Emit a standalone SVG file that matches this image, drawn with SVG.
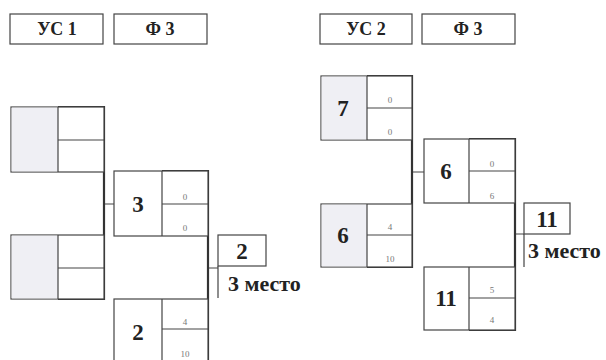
<svg xmlns="http://www.w3.org/2000/svg" width="606" height="360" viewBox="0 0 606 360">
<style>
.b{fill:#fff;stroke:#444;stroke-width:1.2}
.sh{fill:#efeff4;stroke:none}
.l{stroke:#444;stroke-width:1.2;fill:none}
.br{stroke:#333;stroke-width:2.2;fill:none}
.hd{font-family:"Liberation Serif",serif;font-weight:bold;font-size:18px;fill:#222;text-anchor:middle}
.n{font-family:"Liberation Serif",serif;font-weight:bold;font-size:23px;fill:#222;text-anchor:middle}
.s{font-family:"Liberation Serif",serif;font-size:9px;fill:#777;text-anchor:middle}
.m{font-family:"Liberation Serif",serif;font-weight:bold;font-size:22px;fill:#222}
</style>
<rect width="606" height="360" fill="#fff"/>
<g id="hdr-us1"><rect class="b" x="10" y="14" width="93" height="30"/><text class="hd" x="57" y="35">УС 1</text></g>
<g id="hdr-f3a"><rect class="b" x="114" y="14" width="93" height="30"/><text class="hd" x="160" y="35">Ф 3</text></g>
<g id="hdr-us2"><rect class="b" x="320" y="14" width="92" height="30"/><text class="hd" x="366" y="35">УС 2</text></g>
<g id="hdr-f3b"><rect class="b" x="422" y="14" width="93" height="30"/><text class="hd" x="468" y="35">Ф 3</text></g>

<g id="connectors">
<path class="l" d="M104 204H114M208 268H218M218 266V298M412 172H424M515 234H524M524 234V267"/>
<path class="br" d="M58 107H104V299H58"/>
<path class="br" d="M162 171H208V362H162"/>
<path class="br" d="M367 76H412V267H367"/>
<path class="br" d="M469 139H515V330H469"/>
</g>

<g id="L1"><rect class="b" x="11" y="107" width="93" height="65"/><rect class="sh" x="11.6" y="107.6" width="46.4" height="63.8"/><path class="l" d="M58 107V172M58 140H104"/></g>
<g id="L2"><rect class="b" x="11" y="235" width="93" height="64"/><rect class="sh" x="11.6" y="235.6" width="46.4" height="62.8"/><path class="l" d="M58 235V299M58 268H104"/></g>
<g id="L3"><rect class="b" x="114" y="171" width="94" height="65"/><path class="l" d="M162 171V236M162 204H208"/>
<text class="n" x="138" y="212">3</text><text class="s" x="185" y="200">0</text><text class="s" x="185" y="231">0</text></g>
<g id="L4"><rect class="b" x="114" y="299" width="94" height="64"/><path class="l" d="M162 299V363M162 329H208"/>
<text class="n" x="138" y="340">2</text><text class="s" x="185" y="325">4</text><text class="s" x="185" y="357">10</text></g>
<g id="L5"><rect class="b" x="218" y="235" width="48" height="31"/><text class="n" x="242" y="259">2</text>
<text class="m" x="228" y="291">3 место</text></g>

<g id="R1"><rect class="b" x="321" y="76" width="91" height="64"/><rect class="sh" x="321.6" y="76.6" width="45.4" height="62.8"/><path class="l" d="M367 76V140M367 108H412"/>
<text class="n" x="343" y="116">7</text><text class="s" x="390" y="103">0</text><text class="s" x="390" y="135">0</text></g>
<g id="R2"><rect class="b" x="321" y="204" width="91" height="63"/><rect class="sh" x="321.6" y="204.6" width="45.4" height="61.8"/><path class="l" d="M367 204V267M367 235H412"/>
<text class="n" x="343" y="243">6</text><text class="s" x="390" y="230">4</text><text class="s" x="390" y="262">10</text></g>
<g id="R3"><rect class="b" x="424" y="139" width="91" height="64"/><path class="l" d="M469 139V203M469 171H515"/>
<text class="n" x="446" y="179">6</text><text class="s" x="492" y="167">0</text><text class="s" x="492" y="199">6</text></g>
<g id="R4"><rect class="b" x="424" y="267" width="91" height="63"/><path class="l" d="M469 267V330M469 298H515"/>
<text class="n" x="446" y="306">11</text><text class="s" x="492" y="293">5</text><text class="s" x="492" y="323">4</text></g>
<g id="R5"><rect class="b" x="524" y="203" width="46" height="31"/><text class="n" x="547" y="227">11</text>
<text class="m" x="528" y="258">3 место</text></g>
</svg>
